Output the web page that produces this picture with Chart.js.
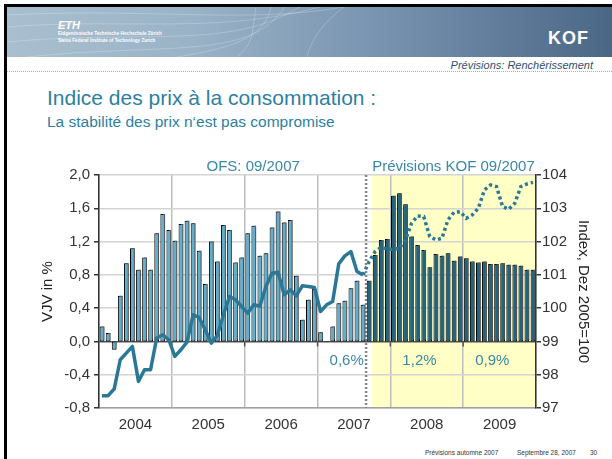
<!DOCTYPE html>
<html>
<head>
<meta charset="utf-8">
<script src="https://cdn.jsdelivr.net/npm/chart.js@4.4.0/dist/chart.umd.min.js"></script>
<style>
  body { margin: 0; background: #fff; }
  #slide { position: relative; width: 612px; height: 459px; background: #fff; overflow: hidden;
           font-family: "Liberation Sans", Arial, sans-serif; }
  .frame { position: absolute; background: #000; }
  #banner { position: absolute; left: 7px; top: 7px; width: 605px; height: 50px;
            background: linear-gradient(90deg, #a9bfcf 0%, #9ab3c7 30%, #7893b0 62%, #4b6786 100%); }
  #banner svg { position: absolute; left: 0; top: 0; }
  .txt { position: absolute; line-height: 1; white-space: nowrap; }
  #eth { left: 58px; top: 20px; color: #fff; font-weight: bold; font-style: italic; font-size: 11px; }
  .ethsub { left: 58px; color: #fff; font-weight: bold; font-size: 4.6px; }
  #kof { left: 548px; top: 29px; color: #fff; font-weight: bold; font-size: 18px; letter-spacing: 1px; }
  #section { right: 19px; top: 60px; color: #2f4f70; font-style: italic; font-size: 11px; }
  #rule { position: absolute; left: 7px; top: 71px; width: 605px; border-top: 1px dotted #9fb3c4; }
  #title { left: 47px; top: 87px; color: #2d7fa2; font-size: 21px; }
  #subtitle { left: 47px; top: 114px; color: #2d7fa2; font-size: 15.5px; }
  .foot { top: 450px; color: #333; font-size: 6.5px; }
  #chartBox { position: absolute; left: 0; top: 150px; width: 612px; height: 290px; }
</style>
</head>
<body>
<div id="slide">
  <div class="frame" style="left:4px;top:4px;width:3px;height:455px"></div>
  <div class="frame" style="left:4px;top:4px;width:608px;height:3px"></div>
  <div id="banner">
    <svg width="605" height="50" viewBox="0 0 605 50">
      <g fill="none" stroke="#ffffff" stroke-opacity="0.22" stroke-width="1">
        <path d="M0 20 C120 10 220 30 330 -5"/>
        <path d="M0 35 C140 22 230 45 300 -5"/>
        <path d="M20 50 C160 35 250 55 280 -5"/>
        <path d="M170 50 C230 40 260 30 265 -5"/>
        <path d="M230 50 C250 35 245 15 250 -5"/>
        <path d="M300 50 C305 30 320 10 345 -5"/>
        <path d="M0 8 C150 0 260 20 360 -5"/>
      </g>
    </svg>
  </div>
  <div class="txt" id="eth">ETH</div>
  <div class="txt ethsub" style="top:32px">Eidgenössische Technische Hochschule Zürich</div>
  <div class="txt ethsub" style="top:39px">Swiss Federal Institute of Technology Zurich</div>
  <div class="txt" id="kof">KOF</div>
  <div class="txt" id="section">Prévisions: Renchérissement</div>
  <div id="rule"></div>
  <div class="txt" id="title">Indice des prix à la consommation :</div>
  <div class="txt" id="subtitle">La stabilité des prix n‘est pas compromise</div>
  <div id="chartBox"><canvas id="cpiChart"></canvas></div>
  <div class="txt foot" style="left:425px">Prévisions automne 2007</div>
  <div class="txt foot" style="left:517px">Septembre 28, 2007</div>
  <div class="txt foot" style="left:590px">30</div>
</div>

<script>
  // --- data ---
  const years = ['2004', '2005', '2006', '2007', '2008', '2009'];

  // VJV in %, Jan 2004 - Aug 2007 (OFS)
  const ofsRate = [
    0.18, 0.10, -0.10, 0.55, 0.94, 1.12, 0.86, 1.01, 0.86, 1.30, 1.53, 1.34,
    1.21, 1.41, 1.45, 1.42, 1.09, 0.69, 1.20, 0.96, 1.40, 1.34, 0.95, 1.01,
    1.30, 1.39, 1.03, 1.06, 1.37, 1.56, 1.43, 1.46, 0.79, 0.26, 0.50, 0.63,
    0.11, -0.01, 0.18, 0.46, 0.49, 0.64, 0.73, 0.44
  ];
  // VJV in %, Sep 2007 - Dec 2009 (KOF forecast)
  const kofRate = [
    0.73, 1.04, 1.22, 1.23,
    1.75, 1.78, 1.65, 1.26, 1.16, 1.10, 0.89, 1.05, 1.03, 1.06, 0.97, 1.02,
    1.00, 0.96, 0.95, 0.96, 0.93, 0.93, 0.94, 0.92, 0.92, 0.91, 0.86, 0.86
  ];
  // Index Dez 2005=100, Jan 2004 - Aug 2007 (OFS)
  const ofsIndex = [
    97.37, 97.37, 97.57, 98.45, 98.65, 98.85, 97.80, 98.15, 98.15, 99.10, 99.20, 99.05,
    98.55, 98.75, 98.98, 99.80, 99.72, 99.35, 98.95, 99.18, 99.80, 100.35, 100.25, 100.05,
    99.85, 100.10, 100.06, 100.65, 101.05, 101.08, 100.40, 100.55, 100.37, 100.67, 100.65, 100.62,
    99.90, 100.10, 100.20, 101.33, 101.57, 101.70, 101.10, 101.00
  ];
  // Index forecast, Aug 2007 - Dec 2009 (KOF)
  const kofIndex = [
    101.00, 101.40, 101.70, 101.83, 101.77,
    101.77, 101.80, 102.05, 102.55, 102.77, 102.75, 102.15, 102.05, 102.10, 102.65, 102.88, 102.90,
    102.70, 102.80, 103.00, 103.55, 103.70, 103.65, 103.05, 102.97, 103.15, 103.65, 103.73, 103.78
  ];
  // yearly averages shown under the zero line (2007, 2008, 2009)
  const avgYears = ['2007', '2008', '2009'];
  const avgLabels = ['0,6%', '1,2%', '0,9%'];

  const ofsLabel = 'OFS: 09/2007';
  const kofLabel = 'Prévisions KOF 09/2007';

  const forecastStart = ofsRate.length;      // first forecast bar (Sep 2007)
  const shadeStart = forecastStart + 1;      // yellow area from Oct 2007
  const totalMonths = years.length * 12;

  const teal = '#2b7896';
  const textTeal = '#3a88a8';
  const fontFamily = '"Liberation Sans", Arial, sans-serif';

  const pts = (arr, offset) => arr.map((v, i) => ({ x: offset + i + 0.5, y: v }));

  // --- extra drawing: shaded forecast area, dotted separator, labels ---
  const decor = {
    id: 'decor',
    beforeDraw(chart) {
      const { ctx, chartArea: a, scales: { x } } = chart;
      ctx.save();
      ctx.fillStyle = '#ffffc6';
      const x0 = x.getPixelForValue(shadeStart);
      ctx.fillRect(x0, a.top, a.right - x0, a.bottom - a.top);
      ctx.restore();
    },
    beforeDatasetsDraw(chart) {
      const { ctx, chartArea: a, scales: { x, y } } = chart;
      ctx.save();
      // dotted line between OFS data and forecast
      const xs = x.getPixelForValue(forecastStart);
      ctx.strokeStyle = '#888';
      ctx.lineWidth = 2.5;
      ctx.setLineDash([2, 2]);
      ctx.beginPath();
      ctx.moveTo(xs, a.top);
      ctx.lineTo(xs, a.bottom);
      ctx.stroke();
      // year marks under the zero line
      ctx.setLineDash([]);
      ctx.strokeStyle = '#555';
      ctx.lineWidth = 1.5;
      const y0 = y.getPixelForValue(0);
      for (let m = 12; m < totalMonths; m += 12) {
        const px = x.getPixelForValue(m);
        ctx.beginPath();
        ctx.moveTo(px, y0);
        ctx.lineTo(px, y0 + 5);
        ctx.stroke();
      }
      ctx.restore();
    },
    beforeDatasetDraw(chart, args) {
      if (chart.data.datasets[args.index].type === 'bar') {
        const ctx = chart.ctx;
        ctx.save();
        ctx.shadowColor = 'rgba(90,90,90,0.9)';
        ctx.shadowOffsetX = 1.5;
        ctx.shadowOffsetY = -1;
        ctx.shadowBlur = 0;
      }
    },
    afterDatasetDraw(chart, args) {
      if (chart.data.datasets[args.index].type === 'bar') chart.ctx.restore();
    },
    afterDraw(chart) {
      const { ctx, chartArea: a, scales: { x, y } } = chart;
      ctx.save();
      ctx.fillStyle = textTeal;
      ctx.font = '15px ' + fontFamily;
      ctx.textAlign = 'center';
      ctx.textBaseline = 'alphabetic';
      ctx.fillText(ofsLabel, x.getPixelForValue(25.4), a.top - 4);
      ctx.fillText(kofLabel, x.getPixelForValue(58.4), a.top - 4);
      avgYears.forEach((yr, k) => {
        const mid = (years.indexOf(yr) + 0.5) * 12 - 1.2;
        ctx.fillText(avgLabels[k], x.getPixelForValue(mid), y.getPixelForValue(-0.28));
      });
      ctx.restore();
    }
  };

  Chart.defaults.font.family = fontFamily;
  Chart.defaults.font.size = 15;
  Chart.defaults.color = '#2a2a2a';

  new Chart(document.getElementById('cpiChart'), {
    data: {
      datasets: [
        {
          type: 'bar',
          label: 'VJV OFS',
          data: pts(ofsRate, 0),
          backgroundColor: '#62aecd',
          borderColor: '#000',
          borderWidth: 1,
          borderSkipped: false,
          barPercentage: 0.78,
          categoryPercentage: 1,
          grouped: false,
          yAxisID: 'y',
          order: 2
        },
        {
          type: 'bar',
          label: 'VJV KOF',
          data: pts(kofRate, forecastStart),
          backgroundColor: '#1f6482',
          borderColor: '#000',
          borderWidth: 1,
          borderSkipped: false,
          barPercentage: 0.78,
          categoryPercentage: 1,
          grouped: false,
          yAxisID: 'y',
          order: 2
        },
        {
          type: 'line',
          label: 'Index OFS',
          data: pts(ofsIndex, 0),
          borderColor: teal,
          borderWidth: 3.5,
          borderJoinStyle: 'round',
          pointRadius: 0,
          tension: 0,
          yAxisID: 'y1',
          order: 1
        },
        {
          type: 'line',
          label: 'Index KOF',
          data: pts(kofIndex, forecastStart - 1),
          borderColor: teal,
          borderWidth: 3.5,
          borderDash: [3, 3],
          pointRadius: 0,
          tension: 0,
          yAxisID: 'y1',
          order: 1
        }
      ]
    },
    options: {
      responsive: true,
      maintainAspectRatio: false,
      animation: false,
      layout: { padding: { left: 38, right: 20, top: 25, bottom: 0 } },
      plugins: { legend: { display: false }, tooltip: { enabled: false } },
      scales: {
        x: {
          type: 'linear',
          min: 0,
          max: totalMonths,
          offset: false,
          afterFit: s => { s.height = 32; },
          afterBuildTicks: s => {
            s.ticks = [];
            for (let m = 0; m <= totalMonths; m += 6) s.ticks.push({ value: m });
          },
          ticks: {
            autoSkip: false,
            maxRotation: 0,
            padding: 8,
            color: '#333',
            callback: v => (v % 12 === 6 ? years[(v - 6) / 12] : '')
          },
          grid: {
            offset: false,
            drawTicks: false,
            lineWidth: 1.5,
            color: c => (c.tick && c.tick.value % 12 === 0 ? '#bdbdbd' : 'rgba(0,0,0,0)')
          },
          border: { color: '#a0a0a0', width: 1.5 }
        },
        y: {
          position: 'left',
          min: -0.8,
          max: 2.0,
          afterFit: s => { s.width = 61; },
          ticks: {
            stepSize: 0.4,
            padding: 4,
            color: '#333',
            callback: v => (Math.abs(v) < 1e-9 ? 0 : v).toFixed(1).replace('.', ',')
          },
          grid: {
            lineWidth: 1.5,
            tickLength: 5,
            tickColor: '#333',
            color: c => (c.tick && Math.abs(c.tick.value) < 1e-9 ? '#555' : '#d4d4d4')
          },
          border: { color: '#333', width: 1.5 },
          title: { display: true, text: 'VJV in %', color: '#222', padding: { top: 1, bottom: 4 } }
        },
        y1: {
          position: 'right',
          min: 97,
          max: 104,
          afterFit: s => { s.width = 56; },
          ticks: { stepSize: 1, padding: 1, color: '#333' },
          grid: { drawOnChartArea: false, tickLength: 5, tickColor: '#333', lineWidth: 1.5 },
          border: { color: '#333', width: 1.5 },
          title: { display: true, text: 'Index, Dez 2005=100', color: '#222', padding: { top: 0, bottom: 0 } }
        }
      }
    },
    plugins: [decor]
  });
</script>
</body>
</html>
